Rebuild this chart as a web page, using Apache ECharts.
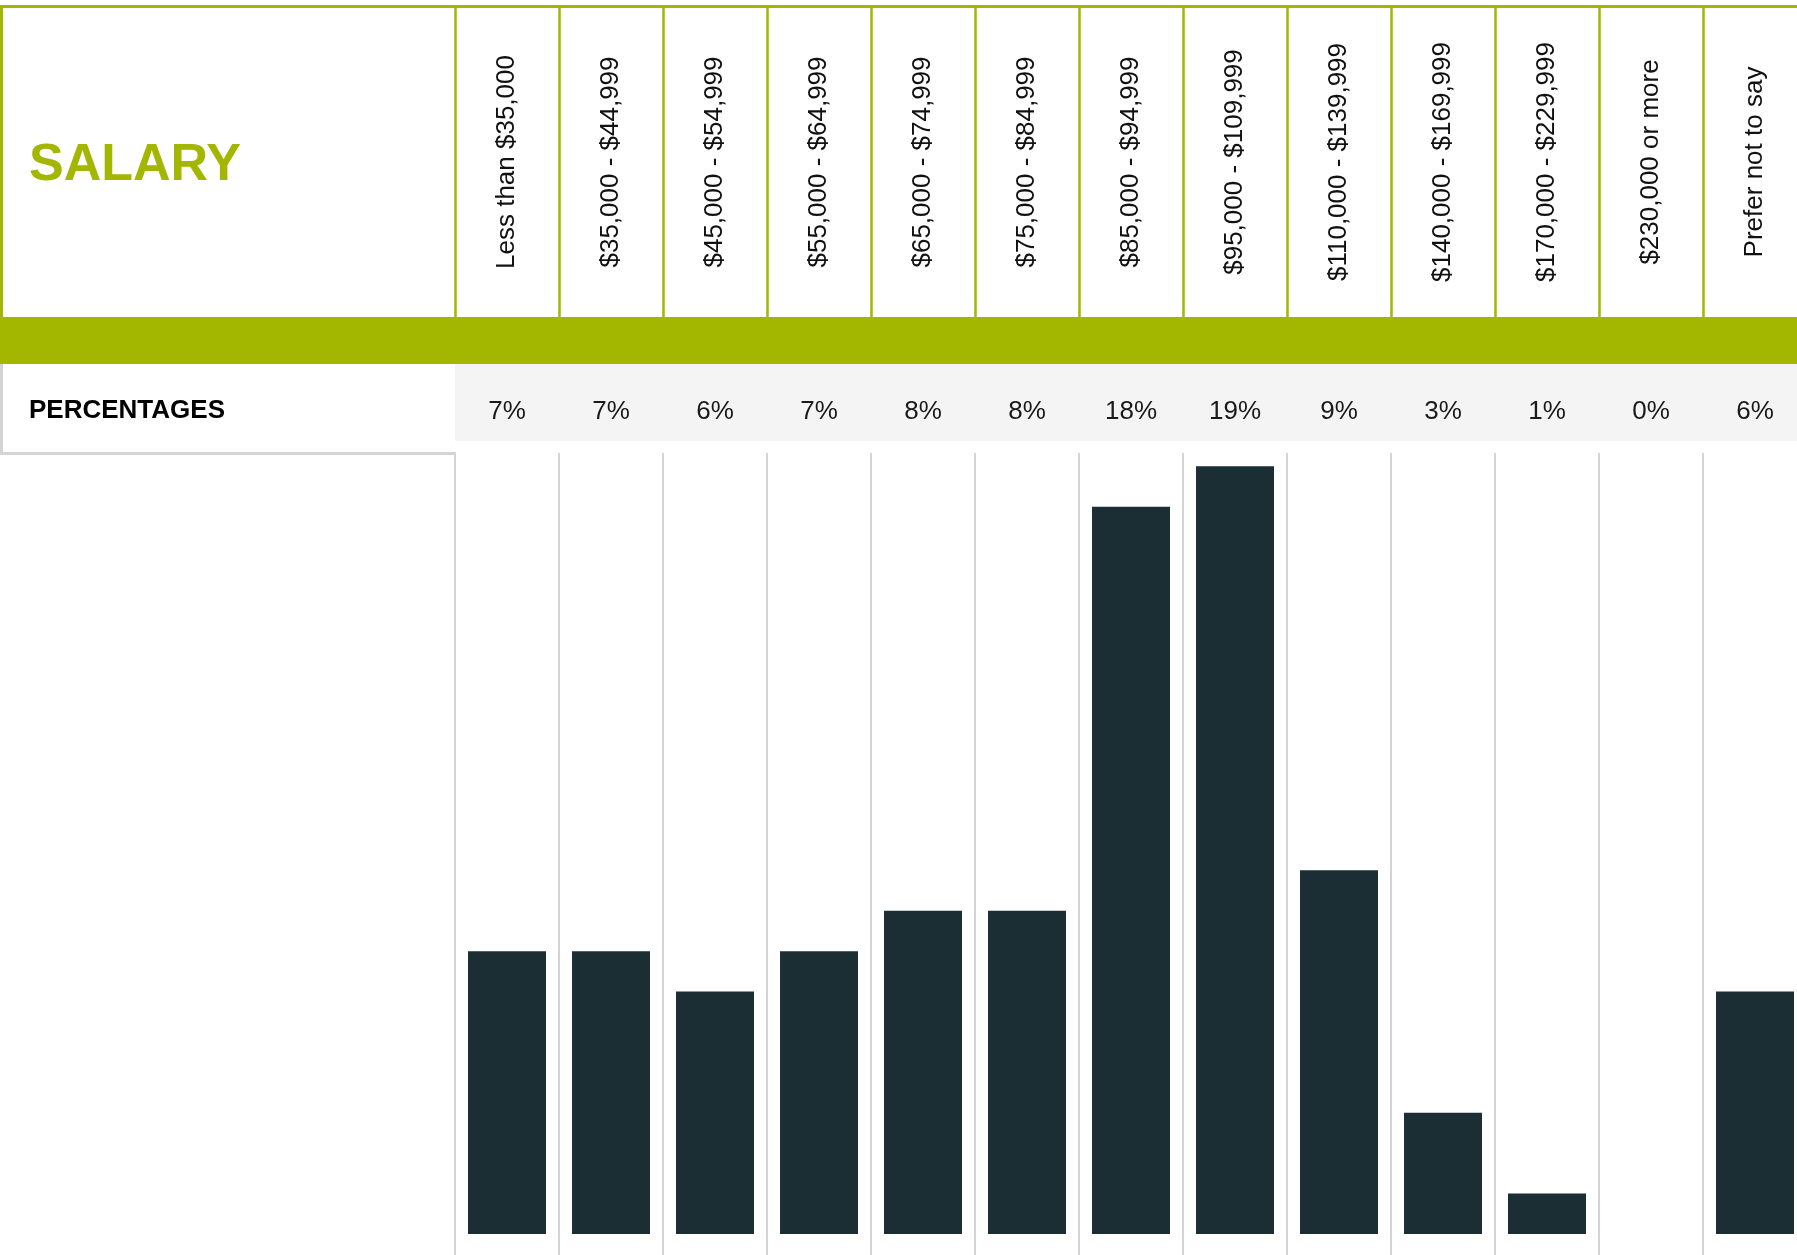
<!DOCTYPE html>
<html>
<head>
<meta charset="utf-8">
<title>Salary</title>
<script src="https://cdn.jsdelivr.net/npm/echarts@6/dist/echarts.min.js"></script>
<style>
  html, body { margin: 0; padding: 0; background: #fff; }
  #myChart { width: 1797px; height: 1255px; }
</style>
</head>
<body>
<div id="myChart"></div>
<script>
// salary bands (header row)
var categories = [
  "Less than $35,000", "$35,000 - $44,999", "$45,000 - $54,999",
  "$55,000 - $64,999", "$65,000 - $74,999", "$75,000 - $84,999",
  "$85,000 - $94,999", "$95,000 - $109,999", "$110,000 - $139,999",
  "$140,000 - $169,999", "$170,000 - $229,999", "$230,000 or more",
  "Prefer not to say"
];
// share of respondents, %
var percentages = [7, 7, 6, 7, 8, 8, 18, 19, 9, 3, 1, 0, 6];

var green = "#a3b600";
var barColor = "#1a2e33";
var lineGray = "#d4d4d4";
var font = "Liberation Sans, Arial, sans-serif";

var myChart = echarts.init(document.getElementById("myChart"));

myChart.setOption({
  animation: false,
  backgroundColor: "#fff",
  grid: [
    // bars
    { left: 455, right: -10, top: 453, bottom: 0, outerBoundsMode: "none", containLabel: false },
    // header cells
    { left: 455, right: -10, top: 6, height: 311, outerBoundsMode: "none", containLabel: false }
  ],
  xAxis: [
    {
      gridIndex: 0,
      type: "category",
      position: "top",
      data: categories,
      axisLine: { show: false },
      axisTick: { show: false },
      axisLabel: {
        interval: 0,
        margin: 41,
        verticalAlign: "middle",
        fontFamily: font,
        fontSize: 26,
        color: "#1a1a1a",
        formatter: function (value, index) {
          return percentages[index] + "%";
        }
      },
      splitLine: { show: true, interval: 0, lineStyle: { color: lineGray, width: 2 } }
    },
    {
      gridIndex: 1,
      type: "category",
      position: "bottom",
      data: categories,
      axisLine: { show: false },
      axisTick: { show: false },
      axisLabel: {
        interval: 0,
        inside: true,
        rotate: 90,
        margin: 155,
        align: "center",
        verticalAlign: "middle",
        fontFamily: font,
        fontSize: 26,
        color: "#111"
      },
      splitLine: { show: true, interval: 0, lineStyle: { color: green, width: 2.5 } }
    }
  ],
  yAxis: [
    { gridIndex: 0, type: "value", min: -0.52, max: 19.33, show: false },
    { gridIndex: 1, type: "value", min: 0, max: 1, show: false }
  ],
  graphic: [
    // header frame
    { type: "rect", shape: { x: 0, y: 5, width: 1797, height: 3 }, style: { fill: green } },
    { type: "rect", shape: { x: 0, y: 5, width: 3, height: 313 }, style: { fill: green } },
    // green band
    { type: "rect", shape: { x: 0, y: 317, width: 1797, height: 47 }, style: { fill: green } },
    // percentage row
    { type: "rect", shape: { x: 455, y: 364, width: 1342, height: 77 }, style: { fill: "#f4f4f4" } },
    { type: "rect", shape: { x: 0, y: 364, width: 3, height: 91 }, style: { fill: lineGray } },
    { type: "rect", shape: { x: 0, y: 452, width: 456, height: 3 }, style: { fill: lineGray } },
    {
      type: "text",
      style: {
        x: 29, y: 166, text: "SALARY", fill: green,
        font: "bold 52px " + font, textVerticalAlign: "middle"
      }
    },
    {
      type: "text",
      style: {
        x: 29, y: 411, text: "PERCENTAGES", fill: "#000",
        font: "bold 26px " + font, textVerticalAlign: "middle"
      }
    }
  ],
  series: [
    {
      name: "Salary",
      type: "bar",
      xAxisIndex: 0,
      yAxisIndex: 0,
      data: percentages,
      barCategoryGap: "25%",
      itemStyle: { color: barColor }
    }
  ]
});
</script>
</body>
</html>
